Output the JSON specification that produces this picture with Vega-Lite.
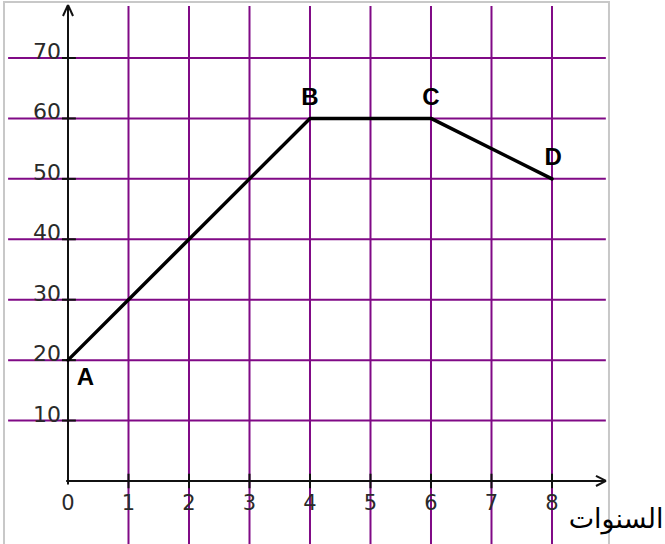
{
  "$schema": "https://vega.github.io/schema/vega-lite/v6.json",
  "width": 665,
  "height": 544,
  "autosize": "none",
  "padding": 0,
  "background": "white",
  "config": {"view": {"stroke": null}},
  "datasets": {
    "vgrid": [{"x": 1}, {"x": 2}, {"x": 3}, {"x": 4}, {"x": 5}, {"x": 6}, {"x": 7}, {"x": 8}],
    "hgrid": [{"y": 10}, {"y": 20}, {"y": 30}, {"y": 40}, {"y": 50}, {"y": 60}, {"y": 70}],
    "axes": [
      {"x": 0, "y": -0.6, "x2": 0, "y2": 78.77},
      {"x": -0.03, "y": 0, "x2": 8.893, "y2": 0},
      {"x": 0, "y": 78.77, "x2": -0.083, "y2": 76.95},
      {"x": 0, "y": 78.77, "x2": 0.083, "y2": 76.95},
      {"x": 8.893, "y": 0, "x2": 8.727, "y2": 0.83},
      {"x": 8.893, "y": 0, "x2": 8.727, "y2": -0.83},
      {"x": 1, "y": 1.2, "x2": 1, "y2": -1.2},
      {"x": 2, "y": 1.2, "x2": 2, "y2": -1.2},
      {"x": 3, "y": 1.2, "x2": 3, "y2": -1.2},
      {"x": 4, "y": 1.2, "x2": 4, "y2": -1.2},
      {"x": 5, "y": 1.2, "x2": 5, "y2": -1.2},
      {"x": 6, "y": 1.2, "x2": 6, "y2": -1.2},
      {"x": 7, "y": 1.2, "x2": 7, "y2": -1.2},
      {"x": 8, "y": 1.2, "x2": 8, "y2": -1.2},
      {"x": -0.1, "y": 10, "x2": 0.13, "y2": 10},
      {"x": -0.1, "y": 20, "x2": 0.13, "y2": 20},
      {"x": -0.1, "y": 30, "x2": 0.13, "y2": 30},
      {"x": -0.1, "y": 40, "x2": 0.13, "y2": 40},
      {"x": -0.1, "y": 50, "x2": 0.13, "y2": 50},
      {"x": -0.1, "y": 60, "x2": 0.13, "y2": 60},
      {"x": -0.1, "y": 70, "x2": 0.13, "y2": 70}
    ],
    "path": [
      {"x": 0, "y": 20, "p": "A"},
      {"x": 4, "y": 60, "p": "B"},
      {"x": 6, "y": 60, "p": "C"},
      {"x": 8, "y": 50, "p": "D"}
    ],
    "ylabels": [
      {"y": 10, "t": "10"}, {"y": 20, "t": "20"}, {"y": 30, "t": "30"},
      {"y": 40, "t": "40"}, {"y": 50, "t": "50"}, {"y": 60, "t": "60"}, {"y": 70, "t": "70"}
    ],
    "xlabels": [
      {"x": 0, "t": "0"}, {"x": 1, "t": "1"}, {"x": 2, "t": "2"}, {"x": 3, "t": "3"},
      {"x": 4, "t": "4"}, {"x": 5, "t": "5"}, {"x": 6, "t": "6"}, {"x": 7, "t": "7"}, {"x": 8, "t": "8"}
    ],
    "plabels": [
      {"x": 0.29, "y": 15.9, "t": "A"},
      {"x": 4, "y": 62.2, "t": "B"},
      {"x": 6, "y": 62.2, "t": "C"},
      {"x": 8.02, "y": 52.3, "t": "D"}
    ],
    "title": [{"x": 9.06, "y": -7.8, "t": "السنوات"}],
    "border": [{"x": -1.058, "x2": 8.942, "y": 79.27, "y2": -12}]
  },
  "layer": [
    {
      "data": {"name": "border"},
      "mark": {"type": "rect", "fill": null, "stroke": "#c8c8c8", "strokeWidth": 2, "clip": true},
      "encoding": {
        "x": {"field": "x", "type": "quantitative", "scale": {"domain": [-1.124, 9.868], "nice": false, "zero": false}, "axis": null},
        "x2": {"field": "x2"},
        "y": {"field": "y", "type": "quantitative", "scale": {"domain": [-10.43, 79.6], "nice": false, "zero": false}, "axis": null},
        "y2": {"field": "y2"}
      }
    },
    {
      "data": {"name": "vgrid"},
      "mark": {"type": "rule", "color": "#800a86", "strokeWidth": 2},
      "encoding": {
        "x": {"field": "x", "type": "quantitative"},
        "y": {"datum": 78.6},
        "y2": {"datum": -10.43}
      }
    },
    {
      "data": {"name": "hgrid"},
      "mark": {"type": "rule", "color": "#800a86", "strokeWidth": 2},
      "encoding": {
        "y": {"field": "y", "type": "quantitative"},
        "x": {"datum": -0.99},
        "x2": {"datum": 8.89}
      }
    },
    {
      "data": {"name": "axes"},
      "mark": {"type": "rule", "color": "#111111", "strokeWidth": 2},
      "encoding": {
        "x": {"field": "x", "type": "quantitative"},
        "y": {"field": "y", "type": "quantitative"},
        "x2": {"field": "x2"},
        "y2": {"field": "y2"}
      }
    },
    {
      "data": {"name": "path"},
      "mark": {"type": "line", "color": "#000000", "strokeWidth": 3.5, "strokeCap": "round", "strokeJoin": "round"},
      "encoding": {
        "x": {"field": "x", "type": "quantitative"},
        "y": {"field": "y", "type": "quantitative"},
        "order": {"field": "x"}
      }
    },
    {
      "data": {"name": "ylabels"},
      "mark": {"type": "text", "align": "right", "baseline": "alphabetic", "font": "DejaVu Sans", "fontSize": 22, "color": "#2a2a2a", "dy": 1},
      "encoding": {
        "x": {"datum": -0.116},
        "y": {"field": "y", "type": "quantitative"},
        "text": {"field": "t"}
      }
    },
    {
      "data": {"name": "xlabels"},
      "mark": {"type": "text", "align": "center", "baseline": "alphabetic", "font": "DejaVu Sans", "fontSize": 21, "color": "#2a2a2a"},
      "encoding": {
        "x": {"field": "x", "type": "quantitative"},
        "y": {"datum": -4.8},
        "text": {"field": "t"}
      }
    },
    {
      "data": {"name": "plabels"},
      "mark": {"type": "text", "align": "center", "baseline": "alphabetic", "font": "Liberation Sans", "fontWeight": "bold", "fontSize": 24, "color": "#000000"},
      "encoding": {
        "x": {"field": "x", "type": "quantitative"},
        "y": {"field": "y", "type": "quantitative"},
        "text": {"field": "t"}
      }
    },
    {
      "data": {"name": "title"},
      "mark": {"type": "text", "align": "center", "baseline": "alphabetic", "font": "DejaVu Sans", "fontSize": 27, "color": "#000000"},
      "encoding": {
        "x": {"field": "x", "type": "quantitative"},
        "y": {"field": "y", "type": "quantitative"},
        "text": {"field": "t"}
      }
    }
  ]
}
